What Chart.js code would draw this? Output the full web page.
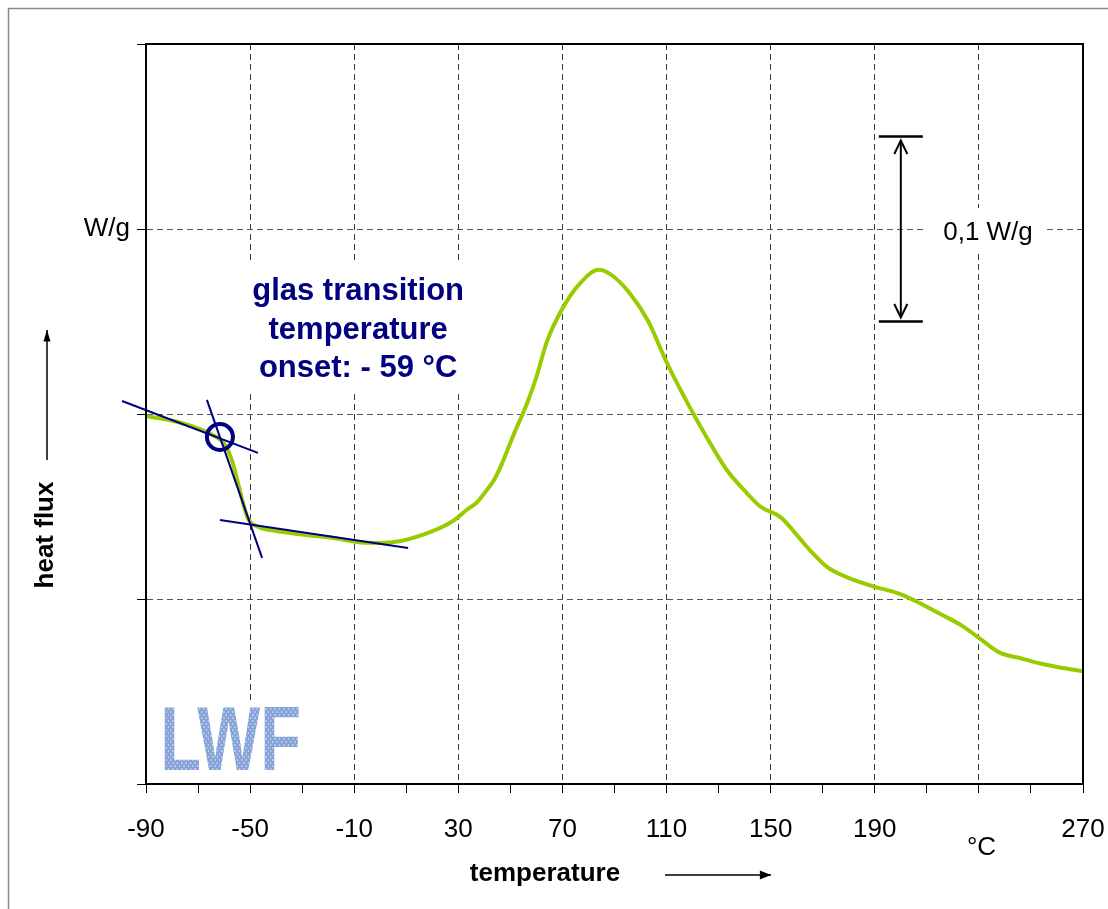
<!DOCTYPE html>
<html>
<head>
<meta charset="utf-8">
<title>DSC - glass transition</title>
<script src="https://cdn.jsdelivr.net/npm/chart.js@4.4.0/dist/chart.umd.min.js"></script>
<style>
  html, body { margin: 0; padding: 0; background: #fff; }
  canvas { display: block; }
</style>
</head>
<body>
<canvas id="dsc" width="1108" height="909"></canvas>
<script>
// DSC curve (temperature in °C, heat flux in W/g, offset is arbitrary)
var temps = [-90, -76, -65, -60, -57, -54, -51, -47, -41, -31, -18, -7, 0, 8, 16, 26, 30, 33, 37, 41,
             44, 47, 51, 55, 57, 60, 64, 70, 77, 84, 89, 96, 103, 110, 118, 126, 133, 141, 146, 154,
             161, 166, 172, 179, 189, 199, 207, 215, 223, 230, 238, 246, 254, 261, 270];
var heatFlux = [0.199, 0.195, 0.189, 0.184, 0.175, 0.159, 0.144, 0.139, 0.137, 0.135, 0.133, 0.1305, 0.1303, 0.1314, 0.1345, 0.1405, 0.1443, 0.148, 0.152, 0.159,
                0.165, 0.174, 0.188, 0.201, 0.208, 0.220, 0.239, 0.257, 0.271, 0.278, 0.275, 0.265, 0.250, 0.228, 0.206, 0.186, 0.170, 0.157, 0.150, 0.144,
                0.133, 0.125, 0.117, 0.112, 0.107, 0.103, 0.098, 0.092, 0.086, 0.079, 0.071, 0.068, 0.065, 0.063, 0.061];

// tangents used for the onset construction
var tangent1X = [-99.2, -47.0], tangent1Y = [0.207, 0.179];
var tangent2X = [-66.6, -45.4], tangent2Y = [0.2076, 0.1222];
var tangent3X = [-61.6, 10.7],  tangent3Y = [0.1427, 0.1276];
var onsetX = [-61.6], onsetY = [0.1876];

// axes
var xMajorTicks = [-90, -50, -10, 30, 70, 110, 150, 190, 230, 270];
var xMajorLabels = ['-90', '-50', '-10', '30', '70', '110', '150', '190', '', '270'];
var xMinorTicks = [-70, -30, 10, 50, 90, 130, 170, 210, 250];
var yTicks = [0, 0.1, 0.2, 0.3, 0.4];
var yTickLabels = ['', '', '', 'W/g', ''];

// 0,1 W/g scale bar: x position, from, to
var scaleBarX = 200, scaleBarFrom = 0.25, scaleBarTo = 0.35;

var noteLines = ['glas transition', 'temperature', 'onset: - 59 °C'];

var FONT = '"Liberation Sans", Arial, Helvetica, sans-serif';
var NAVY = '#000080';

function pts(xs, ys) {
    return xs.map(function(v, i) { return {x: v, y: ys[i]}; });
}

function arrowLine(ctx, x1, y1, x2, y2, head, open, spread) {
    var a = Math.atan2(y2 - y1, x2 - x1);
    var s = spread || 0.45;
    ctx.beginPath();
    ctx.moveTo(x1, y1);
    ctx.lineTo(x2, y2);
    ctx.stroke();
    ctx.beginPath();
    ctx.moveTo(x2 - head * Math.cos(a - s), y2 - head * Math.sin(a - s));
    ctx.lineTo(x2, y2);
    ctx.lineTo(x2 - head * Math.cos(a + s), y2 - head * Math.sin(a + s));
    if (open) { ctx.stroke(); } else { ctx.closePath(); ctx.fill(); }
}

var decorations = {
    id: 'decorations',
    beforeDatasetsDraw: function(chart) {
        var ctx = chart.ctx, xs = chart.scales.x, ys = chart.scales.y;
        ctx.save();
        ctx.fillStyle = '#fff';

        // white box behind the onset note
        ctx.font = 'bold 31px ' + FONT;
        var cx = xs.getPixelForValue(-8.5);
        var by = ys.getPixelForValue(0.2616);
        var w = 0;
        noteLines.forEach(function(t) { w = Math.max(w, ctx.measureText(t).width); });
        ctx.fillRect(cx - w / 2 - 5, by - 38, w + 10, 38.5 * 2 + 55);

        // white box behind the scale bar label
        ctx.font = '26px ' + FONT;
        var lx = xs.getPixelForValue(233.5);
        var lw = ctx.measureText('0,1 W/g').width;
        var lb = ys.getPixelForValue(0.3) + 11;
        ctx.fillRect(lx - lw / 2 - 17, lb - 32, lw + 30, 45);

        // LWF logo
        var gx = xs.getPixelForValue(-84.5), gy = ys.getPixelForValue(0.0);
        ctx.fillRect(gx - 6, gy - 84, 158, 83);
        var pc = document.createElement('canvas');
        pc.width = 6; pc.height = 6;
        var p = pc.getContext('2d');
        p.fillStyle = '#8b9fd8'; p.fillRect(0, 0, 6, 6);
        p.fillStyle = '#a9d9e6'; p.fillRect(1, 1, 2, 2); p.fillRect(4, 4, 2, 2);
        ctx.fillStyle = ctx.createPattern(pc, 'repeat');
        ctx.translate(gx, gy - 14);
        ctx.scale(0.74, 1);
        ctx.font = 'bold 90px ' + FONT;
        ctx.textBaseline = 'alphabetic';
        ctx.fillText('LWF', 0, 0);
        ctx.restore();
    },
    afterDraw: function(chart) {
        var ctx = chart.ctx, a = chart.chartArea, xs = chart.scales.x, ys = chart.scales.y;
        ctx.save();

        // outer frame
        ctx.strokeStyle = '#8a8a8a';
        ctx.lineWidth = 1.5;
        ctx.strokeRect(8.5, 8.5, 1200, 1200);

        // plot box
        ctx.strokeStyle = '#000';
        ctx.lineWidth = 2;
        ctx.strokeRect(a.left, a.top, a.right - a.left, a.bottom - a.top);

        // scale bar
        var sx = xs.getPixelForValue(scaleBarX);
        var s1 = ys.getPixelForValue(scaleBarFrom), s2 = ys.getPixelForValue(scaleBarTo);
        ctx.lineWidth = 2.5;
        ctx.beginPath();
        ctx.moveTo(sx - 22, s1); ctx.lineTo(sx + 22, s1);
        ctx.moveTo(sx - 22, s2); ctx.lineTo(sx + 22, s2);
        ctx.stroke();
        ctx.lineWidth = 2;
        arrowLine(ctx, sx, (s1 + s2) / 2, sx, s2 + 4, 15, true);
        arrowLine(ctx, sx, (s1 + s2) / 2, sx, s1 - 4, 15, true);

        ctx.fillStyle = '#000';
        ctx.textAlign = 'center';
        ctx.textBaseline = 'alphabetic';
        ctx.font = '26px ' + FONT;
        ctx.fillText('0,1 W/g', xs.getPixelForValue(233.5), ys.getPixelForValue(0.3) + 11);
        ctx.fillText('°C', xs.getPixelForValue(231), 855);

        // onset note
        ctx.fillStyle = NAVY;
        ctx.font = 'bold 31px ' + FONT;
        var cx = xs.getPixelForValue(-8.5), by = ys.getPixelForValue(0.2616);
        noteLines.forEach(function(t, i) { ctx.fillText(t, cx, by + i * 38.5); });

        // axis titles with arrows
        ctx.fillStyle = '#000';
        ctx.font = 'bold 26px ' + FONT;
        ctx.fillText('temperature', 545, 881);
        ctx.lineWidth = 1.5;
        arrowLine(ctx, 665, 875, 771, 875, 12, false, 0.38);

        arrowLine(ctx, 47, 460, 47, 330, 12, false, 0.3);
        ctx.translate(53, 535);
        ctx.rotate(-Math.PI / 2);
        ctx.fillText('heat flux', 0, 0);
        ctx.restore();
    }
};

var ctx = document.getElementById('dsc').getContext('2d');

var dscChart = new Chart(ctx, {
    type: 'line',
    data: {
        datasets: [
            {
                label: 'onset',
                data: pts(onsetX, onsetY),
                showLine: false,
                pointRadius: 13,
                pointBorderWidth: 4,
                pointBorderColor: NAVY,
                pointBackgroundColor: 'rgba(0,0,0,0)',
                order: 1
            },
            { label: 't1', data: pts(tangent1X, tangent1Y), borderColor: NAVY, borderWidth: 2, pointRadius: 0, clip: false, order: 2 },
            { label: 't2', data: pts(tangent2X, tangent2Y), borderColor: NAVY, borderWidth: 2, pointRadius: 0, clip: false, order: 2 },
            { label: 't3', data: pts(tangent3X, tangent3Y), borderColor: NAVY, borderWidth: 2, pointRadius: 0, clip: false, order: 2 },
            {
                label: 'heat flux',
                data: pts(temps, heatFlux),
                borderColor: '#99cc00',
                borderWidth: 4,
                pointRadius: 0,
                cubicInterpolationMode: 'monotone',
                order: 3
            }
        ]
    },
    options: {
        responsive: false,
        animation: false,
        layout: { padding: { top: 44, right: 25, left: 0, bottom: 0 } },
        plugins: { legend: { display: false }, tooltip: { enabled: false } },
        scales: {
            x: {
                type: 'linear',
                min: -90,
                max: 270,
                afterBuildTicks: function(scale) {
                    scale.ticks = xMajorTicks.concat(xMinorTicks).sort(function(a, b) { return a - b; })
                        .map(function(v) { return {value: v}; });
                },
                afterFit: function(scale) {
                    scale.height = 125;
                    scale.paddingLeft = 0;
                    scale.paddingRight = 0;
                },
                border: { display: true, color: '#000', width: 2, dash: [6, 4] },
                grid: {
                    color: function(c) {
                        var v = c.tick ? c.tick.value : null;
                        if (v === -90 || v === 270 || xMajorTicks.indexOf(v) < 0) return 'rgba(0,0,0,0)';
                        return '#3a3a3a';
                    },
                    lineWidth: 1,
                    tickColor: '#000',
                    tickLength: 9,
                    tickWidth: 1
                },
                ticks: {
                    autoSkip: false,
                    maxRotation: 0,
                    padding: 21,
                    color: '#000',
                    font: { family: FONT, size: 26 },
                    callback: function(v) {
                        var i = xMajorTicks.indexOf(v);
                        return i < 0 ? '' : xMajorLabels[i];
                    }
                }
            },
            y: {
                min: 0,
                max: 0.4,
                afterBuildTicks: function(scale) {
                    scale.ticks = yTicks.map(function(v) { return {value: v}; });
                },
                afterFit: function(scale) {
                    scale.width = 146;
                    scale.paddingTop = 0;
                    scale.paddingBottom = 0;
                },
                border: { display: true, color: '#000', width: 2, dash: [6, 4] },
                grid: {
                    color: function(c) {
                        var v = c.tick ? c.tick.value : null;
                        if (v === 0 || v === 0.4) return 'rgba(0,0,0,0)';
                        return '#555';
                    },
                    lineWidth: 1,
                    tickColor: '#000',
                    tickLength: 9,
                    tickWidth: 1
                },
                ticks: {
                    autoSkip: false,
                    padding: 7,
                    color: '#000',
                    font: { family: FONT, size: 26 },
                    callback: function(v) {
                        var i = yTicks.indexOf(v);
                        return i < 0 ? '' : yTickLabels[i];
                    }
                }
            }
        }
    },
    plugins: [decorations]
});
</script>
</body>
</html>
